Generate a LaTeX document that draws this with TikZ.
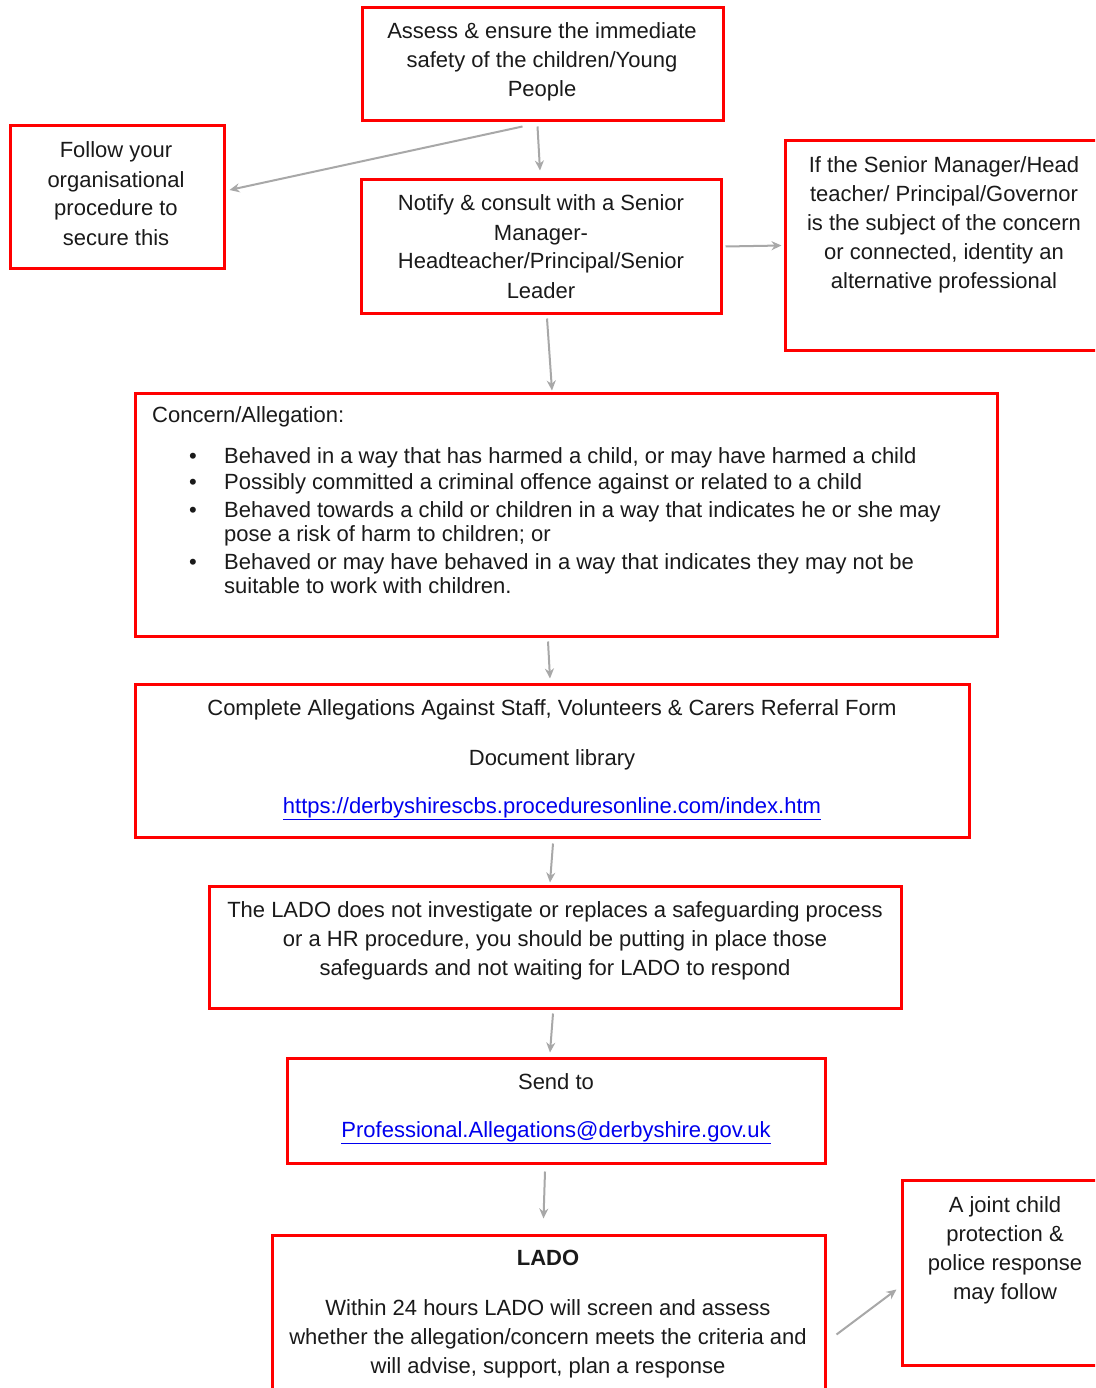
\documentclass[tikz,border=0pt]{standalone}
\usepackage{fontspec}
\setmainfont{Liberation Sans}
\usetikzlibrary{arrows.meta}
\definecolor{boxred}{HTML}{FF0000}
\definecolor{arrgray}{HTML}{A8A8A8}
\definecolor{txtc}{HTML}{1A1A1A}
\definecolor{linkc}{HTML}{0000EE}
\tikzset{
  box/.style={draw=boxred, line width=3pt, rectangle, inner sep=0pt},
  txt/.style={text=txtc, font=\fontsize{22}{29}\selectfont, align=center, inner sep=0pt, anchor=base},
  ltxt/.style={text=txtc, font=\fontsize{22}{24}\selectfont, align=left, inner sep=0pt, anchor=base west},
  arr/.style={draw=arrgray, line width=2pt, -{Stealth[length=10pt,width=9pt]}},
}
\begin{document}
\begin{tikzpicture}[x=1pt,y=-1pt]
\useasboundingbox (0,0) rectangle (1095,1388);
\clip (0,0) rectangle (1095,1388);
\fill[white] (0,0) rectangle (1095,1388);

% boxes
\node[box, minimum width=361pt, minimum height=113pt] (assess) at (542.5,64.5) {};
\node[box, minimum width=214pt, minimum height=142pt] (follow) at (117,197) {};
\node[box, minimum width=360pt, minimum height=133pt] (notify) at (541,246.5) {};
\node[box, minimum width=320pt, minimum height=209pt] (senior) at (945,245.5) {};
\node[box, minimum width=862pt, minimum height=243pt] (concern) at (566,514.5) {};
\node[box, minimum width=834pt, minimum height=153pt] (complete) at (552,760.5) {};
\node[box, minimum width=692pt, minimum height=122pt] (ladonot) at (555,947) {};
\node[box, minimum width=538pt, minimum height=105pt] (send) at (556,1110.5) {};
\node[box, minimum width=553pt, minimum height=165pt] (lado) at (548.5,1317.5) {};
\node[box, minimum width=203pt, minimum height=185pt] (joint) at (1003.5,1272.5) {};

% texts (multi-line nodes: anchor base = last line's baseline)
\node[txt] (t1) at (542,97) {Assess \& ensure the immediate\\safety of the children/Young\\People};
\node[txt] (t2) at (116,245) {Follow your\\organisational\\procedure to\\secure this};
\node[txt] (t3) at (541,298) {Notify \& consult with a Senior\\Manager-\\Headteacher/Principal/Senior\\Leader};
\node[txt] (t4) at (944,288) {If the Senior Manager/Head\\teacher/ Principal/Governor\\is the subject of the concern\\or connected, identity an\\alternative professional};

\node[ltxt] (t5) at (152,422) {Concern/Allegation:};
\node[ltxt] (b1) at (224,463) {Behaved in a way that has harmed a child, or may have harmed a child};
\node[ltxt] (b2) at (224,489) {Possibly committed a criminal offence against or related to a child};
\node[ltxt] (b3) at (224,541) {Behaved towards a child or children in a way that indicates he or she may\\pose a risk of harm to children; or};
\node[ltxt] (b4) at (224,593) {Behaved or may have behaved in a way that indicates they may not be\\suitable to work with children.};
\foreach \yy/\nm in {463/d1,489/d2,517/d3,569/d4}
  \node[ltxt, anchor=base] (\nm) at (193,\yy) {\textbullet};

\node[txt] (t6) at (552,715) {Complete Allegations Against Staff, Volunteers \& Carers Referral Form};
\node[txt] (t7) at (552,765) {Document library};
\node[txt, text=linkc] (t8) at (552,813) {\underline{https://derbyshirescbs.proceduresonline.com/index.htm}};

\node[txt] (t9) at (555,975) {The LADO does not investigate or replaces a safeguarding process\\or a HR procedure, you should be putting in place those\\safeguards and not waiting for LADO to respond};

\node[txt] (t10) at (556,1089) {Send to};
\node[txt, text=linkc] (t11) at (556,1137) {\underline{Professional.Allegations@derbyshire.gov.uk}};

\node[txt, font=\fontsize{22}{29}\selectfont\bfseries] (t12) at (548,1265) {LADO};
\node[txt] (t13) at (548,1373) {Within 24 hours LADO will screen and assess\\whether the allegation/concern meets the criteria and\\will advise, support, plan a response};

\node[txt] (t14) at (1005,1299) {A joint child\\protection \&\\police response\\may follow};

% connectors (canvas y points up: negative yshift = downwards)
\draw[arr] ([xshift=-20pt,yshift=-4pt]assess.south) -- ([xshift=4pt,yshift=7pt]follow.east);
\draw[arr] ([xshift=-5pt,yshift=-4pt]assess.south) -- ([xshift=-1pt,yshift=8pt]notify.north);
\draw[arr] ([xshift=3pt]notify.east) -- ([xshift=-2pt]senior.west);
\draw[arr] ([xshift=6pt,yshift=-4pt]notify.south) -- ([xshift=-14pt,yshift=1pt]concern.north);
\draw[arr] ([xshift=-18pt,yshift=-4pt]concern.south) -- ([xshift=-2pt,yshift=4pt]complete.north);
\draw[arr] ([xshift=1pt,yshift=-5pt]complete.south) -- ([xshift=-5pt,yshift=2pt]ladonot.north);
\draw[arr] ([xshift=-2pt,yshift=-4pt]ladonot.south) -- ([xshift=-6pt,yshift=4pt]send.north);
\draw[arr] ([xshift=-11pt,yshift=-7pt]send.south) -- ([xshift=-5pt,yshift=15pt]lado.north);
\draw[arr] ([xshift=10pt,yshift=-17pt]lado.east) -- ([xshift=-4pt,yshift=-17pt]joint.west);
\end{tikzpicture}
\end{document}
